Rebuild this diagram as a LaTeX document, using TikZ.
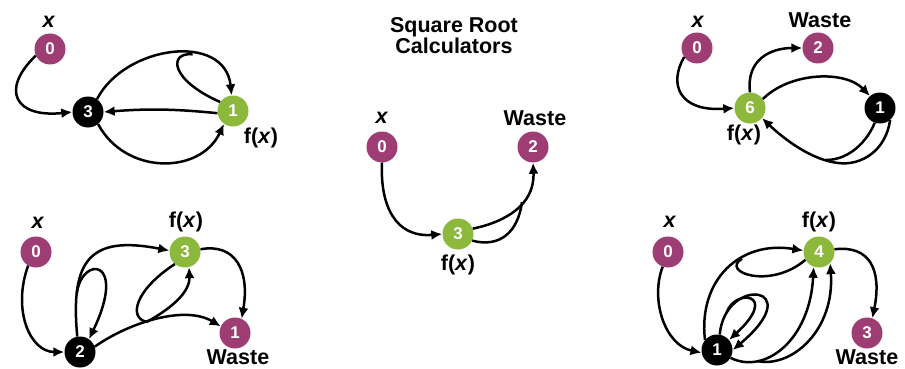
\documentclass[tikz,border=0pt]{standalone}
\usepackage{fontspec}
\setmainfont{Liberation Sans}
\usetikzlibrary{arrows.meta}
\definecolor{wpurple}{HTML}{9E3D73}
\definecolor{fgreen}{HTML}{8CB83C}
\tikzset{
  nd/.style={circle, minimum size=31pt, inner sep=0pt, text=white,
    font=\bfseries\fontsize{17}{17}\selectfont},
  pu/.style={nd, fill=wpurple},
  gr/.style={nd, fill=fgreen},
  bk/.style={nd, fill=black},
  lab/.style={inner sep=0pt, font=\bfseries\fontsize{21.5}{20}\selectfont},
  ed/.style={line width=2.5pt, -{Latex[length=11pt,width=10pt]}},
  ln/.style={line width=2.5pt}
}
\begin{document}
\begin{tikzpicture}[x=1pt,y=-1pt]
\useasboundingbox (0,0) rectangle (905,369);
% title
\node[lab, align=center] (title) at (454,36) {Square Root\\Calculators};

% ===== top-left =====
\node[pu] (A0) at (50,49) {0};
\node[bk] (A3) at (88,112) {3};
\node[gr] (A1) at (233,111) {1};
\node[lab] (A0l) at (49,22) {\textit{x}};
\node[lab] (A1l) at (261,138) {f(\textit{x})};
\draw[ed] (A0.205) .. controls (0,90) and (15,118) .. (A3.west);
\draw[ed] (A3.55) .. controls (125,45) and (225,32) .. (A1.95)
  node[pos=0.62, coordinate] (am) {};
\draw[ln] (A1.145) .. controls (170,80) and (168,52) .. (am);
\draw[ed] (A1.188) to[bend right=5] (A3.east);
\draw[ed] (A3.-50) .. controls (125,175) and (200,175) .. (A1.235);

% ===== centre =====
\node[pu] (B0) at (382,147) {0};
\node[pu] (B2) at (533,147) {2};
\node[gr] (B3) at (458,234) {3};
\node[lab] (B0l) at (382,118) {\textit{x}};
\node[lab] (B2l) at (535,118) {Waste};
\node[lab] (B3l) at (458,265) {f(\textit{x})};
\draw[ed] (B0.south) .. controls (380,205) and (395,238) .. (B3.west);
\draw[ed] (B3.20) .. controls (505,222) and (535,205) .. (B2.south)
  node[pos=0.6, coordinate] (bm) {};
\draw[ln] (B3.-25) .. controls (500,248) and (518,232) .. (bm);

% ===== top-right =====
\node[pu] (C0) at (697,48) {0};
\node[pu] (C2) at (818,48) {2};
\node[gr] (C6) at (750,108) {6};
\node[bk] (C1) at (880,108) {1};
\node[lab] (C0l) at (698,22) {\textit{x}};
\node[lab] (C2l) at (820,20) {Waste};
\node[lab] (C6l) at (744,135) {f(\textit{x})};
\draw[ed] (C0.215) .. controls (668,85) and (680,112) .. (C6.west);
\draw[ed] (C6.north) .. controls (746,60) and (770,48) .. (C2.west);
\draw[ed] (C6.35) .. controls (790,72) and (845,70) .. (C1.130);
\draw[ed] (C1.-50) .. controls (886,150) and (862,166) .. (838,163)
  .. controls (812,160) and (785,140) .. (C6.-40);
\coordinate (cm) at (826,160);
\draw[ln] (C1.-110) .. controls (868,140) and (850,160) .. (cm);

% ===== bottom-left =====
\node[pu] (D0) at (36,252) {0};
\node[gr] (D3) at (185,252) {3};
\node[pu] (D1) at (235,333) {1};
\node[bk] (D2) at (80,352) {2};
\node[lab] (D0l) at (38,223) {\textit{x}};
\node[lab] (D3l) at (186,222) {f(\textit{x})};
\node[lab] (D1l) at (238,357) {Waste};
\draw[ed] (D0.240) .. controls (12,310) and (30,352) .. (D2.west);
\draw[ed] (D2.100) .. controls (70,260) and (90,235) .. (D3.175)
  node[pos=0.22, coordinate] (dl) {};
\draw[ed] (dl) .. controls (82,255) and (128,258) .. (D2.55);
\draw[ed] (D2.20) .. controls (130,322) and (185,305) .. (D1.155)
  node[pos=0.42, coordinate] (db) {};
\draw[ed] (db) .. controls (172,308) and (190,292) .. (D3.-75);
\draw[ln] (D3.230) .. controls (135,290) and (128,318) .. (db);
\draw[ed] (D3.10) .. controls (235,243) and (250,270) .. (D1.65);

% ===== bottom-right =====
\node[pu] (E0) at (668,252) {0};
\node[gr] (E4) at (819,252) {4};
\node[pu] (E3) at (867,333) {3};
\node[bk] (E1) at (717,350) {1};
\node[lab] (E0l) at (670,222) {\textit{x}};
\node[lab] (E4l) at (819,222) {f(\textit{x})};
\node[lab] (E3l) at (867,357) {Waste};
\draw[ed] (E0.250) .. controls (650,300) and (665,345) .. (E1.190);
\draw[ed] (E4.10) .. controls (870,245) and (882,270) .. (E3.70);
\draw[ed] (E1.140) .. controls (698,280) and (740,240) .. (E4.175)
  node[pos=0.62, coordinate] (em) {};
\draw[ln] (E4.210) .. controls (770,290) and (720,272) .. (em);
\draw[ed] (E1.80) .. controls (725,275) and (810,285) .. (E1.0)
  node[pos=0.15, coordinate] (ei) {};
\draw[ed] (ei) .. controls (735,288) and (780,293) .. (E1.40);
\draw[ed] (E1.-30) .. controls (765,375) and (810,340) .. (E4.-110)
  node[pos=0.25, coordinate] (eb) {};
\draw[ed] (eb) .. controls (792,368) and (835,330) .. (E4.-45);
\end{tikzpicture}
\end{document}
